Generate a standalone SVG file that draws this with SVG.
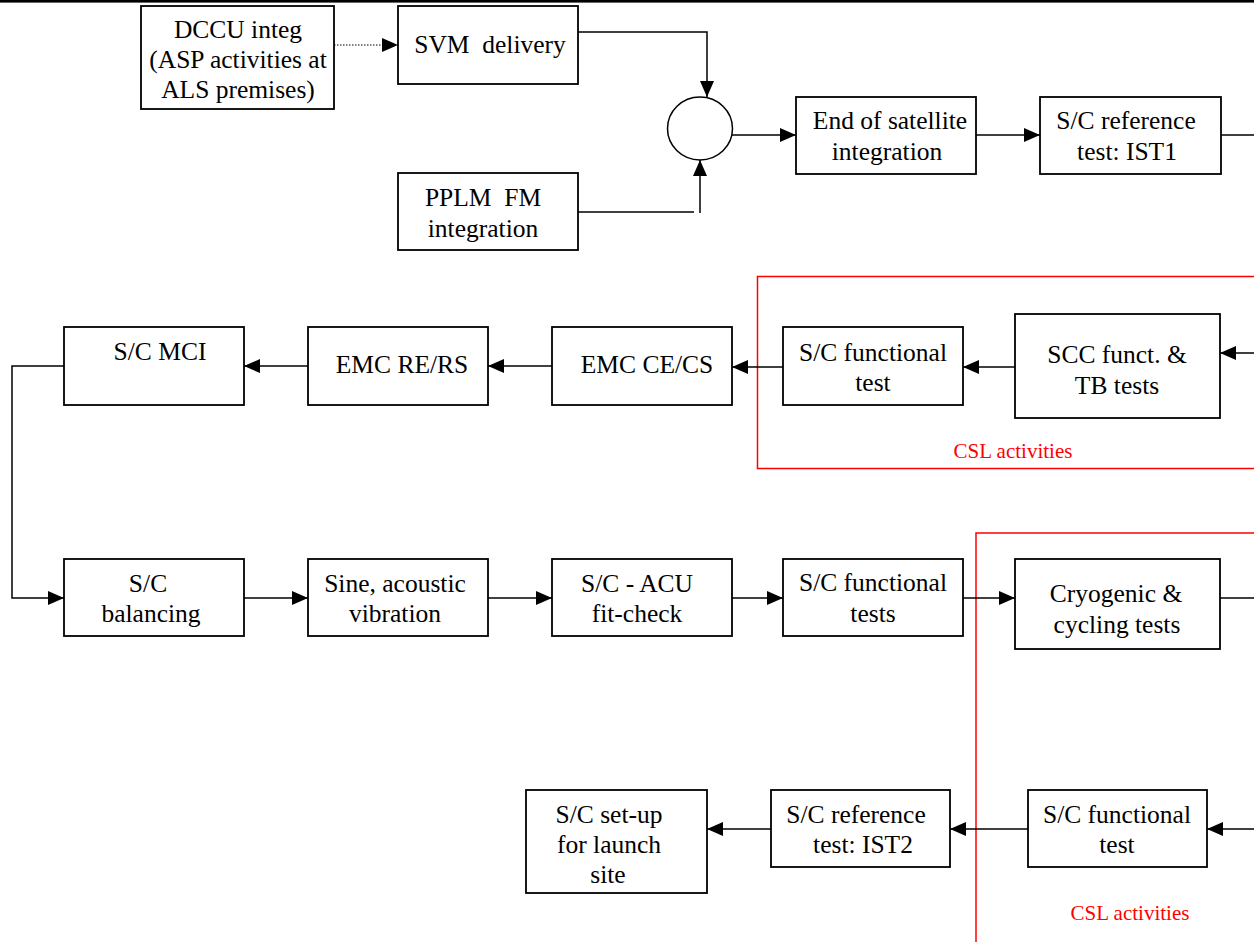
<svg xmlns="http://www.w3.org/2000/svg" width="1254" height="942" viewBox="0 0 1254 942">
  <style>
    .box { fill: #ffffff; stroke: #000000; stroke-width: 1.8; }
    .lbl { font-family: "Liberation Serif", "Times New Roman", serif; font-size: 25.5px; fill: #000000; text-anchor: middle; }
    .pre { white-space: pre; }
    .csl { font-family: "Liberation Serif", "Times New Roman", serif; font-size: 21px; fill: #ff0000; text-anchor: middle; }
    .zone { fill: none; stroke: #ff0000; stroke-width: 1.5; }
    .link { fill: none; stroke: #000000; stroke-width: 1.5; }
    .dots { fill: none; stroke: #000000; stroke-width: 1.2; stroke-dasharray: 1.5 1.5; }
  </style>
  <defs>
    <marker id="ah" viewBox="0 0 16 14" refX="16" refY="7" markerWidth="16" markerHeight="14" markerUnits="userSpaceOnUse" orient="auto">
      <path d="M0,0 L16,7 L0,14 z" fill="#000000"/>
    </marker>
  </defs>

  <rect width="1254" height="942" fill="#ffffff"/>
  <!-- page rule along the top edge -->
  <rect x="0" y="0" width="1254" height="2.6" fill="#000000"/>

  <!-- CSL activity zones -->
  <g id="zones">
    <rect class="zone" x="757.5" y="276.5" width="600" height="192"/>
    <text class="csl" x="1013" y="458">CSL activities</text>
    <rect class="zone" x="976" y="533" width="400" height="420"/>
    <text class="csl" x="1130" y="920">CSL activities</text>
  </g>

  <!-- connectors -->
  <g id="connectors">
    <path class="dots" d="M334,45 H398" marker-end="url(#ah)"/>
    <path class="link" d="M578,32 H707 V97" marker-end="url(#ah)"/>
    <path class="link" d="M578,212 H694"/>
    <path class="link" d="M700,213 V160" marker-end="url(#ah)"/>
    <path class="link" d="M732,135 H796" marker-end="url(#ah)"/>
    <path class="link" d="M976,135 H1040" marker-end="url(#ah)"/>
    <path class="link" d="M1221,135 H1254"/>
    <path class="link" d="M1254,353 H1220" marker-end="url(#ah)"/>
    <path class="link" d="M1015,367 H963" marker-end="url(#ah)"/>
    <path class="link" d="M783,367 H732" marker-end="url(#ah)"/>
    <path class="link" d="M552,366 H488" marker-end="url(#ah)"/>
    <path class="link" d="M308,366 H244" marker-end="url(#ah)"/>
    <path class="link" d="M64,366 H12 V598 H64" marker-end="url(#ah)"/>
    <path class="link" d="M244,598 H308" marker-end="url(#ah)"/>
    <path class="link" d="M488,598 H552" marker-end="url(#ah)"/>
    <path class="link" d="M732,598 H783" marker-end="url(#ah)"/>
    <path class="link" d="M963,598 H1015" marker-end="url(#ah)"/>
    <path class="link" d="M1220,598 H1254"/>
    <path class="link" d="M1254,829 H1207" marker-end="url(#ah)"/>
    <path class="link" d="M1028,829 H950" marker-end="url(#ah)"/>
    <path class="link" d="M771,829 H707" marker-end="url(#ah)"/>
  </g>

  <!-- row 1 -->
  <g id="dccu">
    <rect class="box" x="141" y="6" width="193" height="103"/>
    <text class="lbl" x="238" y="38">DCCU integ</text>
    <text class="lbl" x="238" y="68">(ASP activities at</text>
    <text class="lbl" x="238" y="98">ALS premises)</text>
  </g>
  <g id="svm">
    <rect class="box" x="398" y="6" width="180" height="78"/>
    <text class="lbl pre" x="490" y="53">SVM  delivery</text>
  </g>
  <g id="pplm">
    <rect class="box" x="398" y="173" width="180" height="77"/>
    <text class="lbl pre" x="483" y="206">PPLM  FM</text>
    <text class="lbl" x="483" y="237">integration</text>
  </g>
  <g id="junction">
    <ellipse cx="700" cy="128.5" rx="32.5" ry="31.5" fill="#ffffff" stroke="#000000" stroke-width="1.5"/>
  </g>
  <g id="end-integration">
    <rect class="box" x="796" y="97" width="180" height="77"/>
    <text class="lbl" x="890" y="129">End of satellite</text>
    <text class="lbl" x="887" y="160">integration</text>
  </g>
  <g id="ist1">
    <rect class="box" x="1040" y="97" width="181" height="77"/>
    <text class="lbl" x="1126" y="129">S/C reference</text>
    <text class="lbl" x="1127" y="160">test: IST1</text>
  </g>

  <!-- row 2 -->
  <g id="scc-tests">
    <rect class="box" x="1015" y="314" width="205" height="104"/>
    <text class="lbl" x="1117" y="363">SCC funct. &amp;</text>
    <text class="lbl" x="1117" y="394">TB tests</text>
  </g>
  <g id="functional-1">
    <rect class="box" x="783" y="327" width="180" height="78"/>
    <text class="lbl" x="873" y="361">S/C functional</text>
    <text class="lbl" x="873" y="391">test</text>
  </g>
  <g id="emc-cecs">
    <rect class="box" x="552" y="327" width="180" height="78"/>
    <text class="lbl" x="647" y="373">EMC CE/CS</text>
  </g>
  <g id="emc-rers">
    <rect class="box" x="308" y="327" width="180" height="78"/>
    <text class="lbl" x="402" y="373">EMC RE/RS</text>
  </g>
  <g id="mci">
    <rect class="box" x="64" y="327" width="180" height="78"/>
    <text class="lbl" x="160" y="360">S/C MCI</text>
  </g>

  <!-- row 3 -->
  <g id="balancing">
    <rect class="box" x="64" y="559" width="180" height="77"/>
    <text class="lbl" x="148" y="592">S/C</text>
    <text class="lbl" x="151" y="622">balancing</text>
  </g>
  <g id="vibration">
    <rect class="box" x="308" y="559" width="180" height="77"/>
    <text class="lbl" x="395" y="592">Sine, acoustic</text>
    <text class="lbl" x="395" y="622">vibration</text>
  </g>
  <g id="fit-check">
    <rect class="box" x="552" y="559" width="180" height="77"/>
    <text class="lbl" x="637" y="592">S/C - ACU</text>
    <text class="lbl" x="637" y="622">fit-check</text>
  </g>
  <g id="functional-2">
    <rect class="box" x="783" y="559" width="180" height="77"/>
    <text class="lbl" x="873" y="591">S/C functional</text>
    <text class="lbl" x="873" y="622">tests</text>
  </g>
  <g id="cryogenic">
    <rect class="box" x="1015" y="559" width="205" height="90"/>
    <text class="lbl" x="1116" y="602">Cryogenic &amp;</text>
    <text class="lbl" x="1117" y="633">cycling tests</text>
  </g>

  <!-- row 4 -->
  <g id="functional-3">
    <rect class="box" x="1028" y="790" width="179" height="77"/>
    <text class="lbl" x="1117" y="823">S/C functional</text>
    <text class="lbl" x="1117" y="853">test</text>
  </g>
  <g id="ist2">
    <rect class="box" x="771" y="790" width="179" height="77"/>
    <text class="lbl" x="856" y="823">S/C reference</text>
    <text class="lbl" x="863" y="853">test: IST2</text>
  </g>
  <g id="launch-setup">
    <rect class="box" x="526" y="790" width="181" height="103"/>
    <text class="lbl" x="609" y="823">S/C set-up</text>
    <text class="lbl" x="609" y="853">for launch</text>
    <text class="lbl" x="608" y="883">site</text>
  </g>
</svg>
